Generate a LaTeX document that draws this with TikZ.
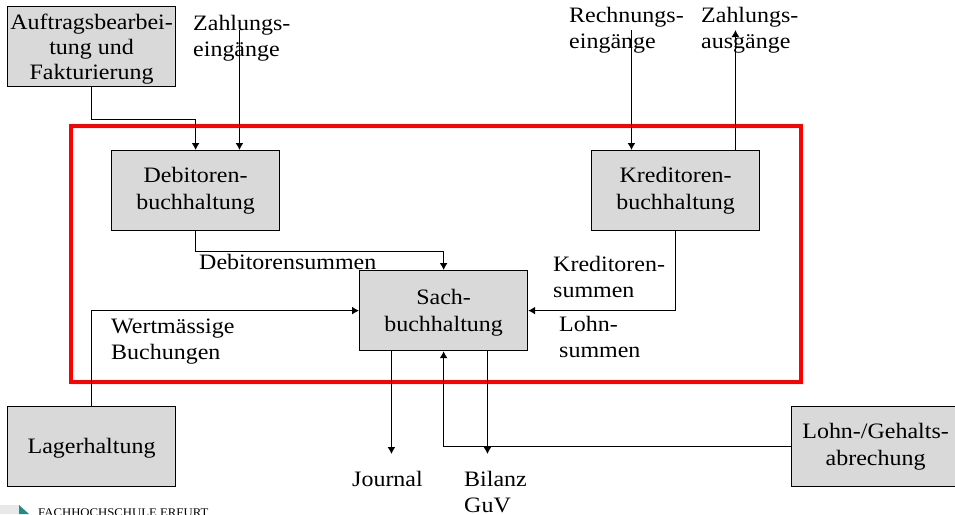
\documentclass[tikz,border=0pt]{standalone}
\usepackage{fontspec}
\setmainfont{Liberation Serif}[FakeStretch=1.09]
\usetikzlibrary{arrows.meta}
\definecolor{boxgray}{RGB}{217,217,217}
\definecolor{logoteal}{RGB}{30,140,135}
\newcommand{\dnn}[1]{\rule{0pt}{#1}}
\tikzset{
  x=1pt,y=-1pt,
  bx/.style={draw=black,fill=boxgray,line width=1.2pt,minimum width=168pt,minimum height=80pt,inner sep=0pt,align=center,font=\fontsize{22}{27}\selectfont,anchor=north west},
  lbl/.style={inner sep=0pt,align=left,font=\fontsize{22}{26}\selectfont,anchor=west},
  cn/.style={draw=black,line width=1.2pt},
  arr/.style={cn,-{Latex[length=7pt,width=8pt]}}
}
\begin{document}
\begin{tikzpicture}
\useasboundingbox (0,0) rectangle (955,514);
\clip (0,0) rectangle (955,514);
\node[bx,font=\fontsize{22}{25}\selectfont] (auf) at (7,6) {\dnn{21pt}Auftragsbearbei-\\tung und\\Fakturierung};
\node[bx] (deb) at (111,150) {Debitoren-\\buchhaltung};
\node[bx] (kre) at (591,150) {Kreditoren-\\buchhaltung};
\node[bx] (sach) at (359,270) {\dnn{19pt}Sach-\\buchhaltung};
\node[bx] (lag) at (7,406) {\dnn{19pt}Lagerhaltung};
\node[bx] (lohn) at (791,406) {Lohn-/Gehalts-\\abrechung};
\draw[red,line width=3.5pt] (71,126) rectangle (801,382);
\node[lbl] (t1) at (193,38) {Zahlungs-\\eingänge};
\node[lbl] (t2) at (569,30) {Rechnungs-\\eingänge};
\node[lbl] (t3) at (701,30) {Zahlungs-\\ausgänge};
\node[lbl] (t4) at (199,262) {Debitorensummen};
\node[lbl] (t5) at (553,277) {Kreditoren-\\summen};
\node[lbl] (t6) at (559,337) {Lohn-\\summen};
\node[lbl] (t7) at (111,342) {Wertmässige\\Buchungen};
\node[lbl,anchor=north west] (t8) at (352,471) {Journal};
\node[lbl,anchor=north west] (t9) at (464,471) {Bilanz\\GuV};
\coordinate (z1) at (239.45,30);
\coordinate (r1) at (631.45,30);
\coordinate (a1) at (735.45,30);
\coordinate (j1) at (391.45,454);
\coordinate (b1) at (487.45,454);
\draw[arr] (auf.south) -- ++(0,32) -| (deb.north);
\draw[arr] (z1) -- (z1 |- deb.north);
\draw[arr] (r1) -- (r1 |- kre.north);
\draw[arr] (a1 |- kre.north) -- (a1);
\draw[arr] (deb.south) -- ++(0,20) -| (sach.north);
\draw[arr] (kre.south) |- (sach.east);
\draw[arr] (lag.north) |- (sach.west);
\draw[arr] (j1 |- sach.south) -- (j1);
\draw[arr] (b1 |- sach.south) -- (b1);
\draw[arr] (lohn.west) -| (sach.south);
\fill[boxgray!60] (0,505) rectangle (19,514);
\fill[logoteal] (19,505) -- (29,514) -- (19,514) -- cycle;
\node[inner sep=0pt,anchor=west,font=\fontsize{11.7}{13}\selectfont] (logo) at (38,513) {FACHHOCHSCHULE ERFURT};
\end{tikzpicture}
\end{document}
